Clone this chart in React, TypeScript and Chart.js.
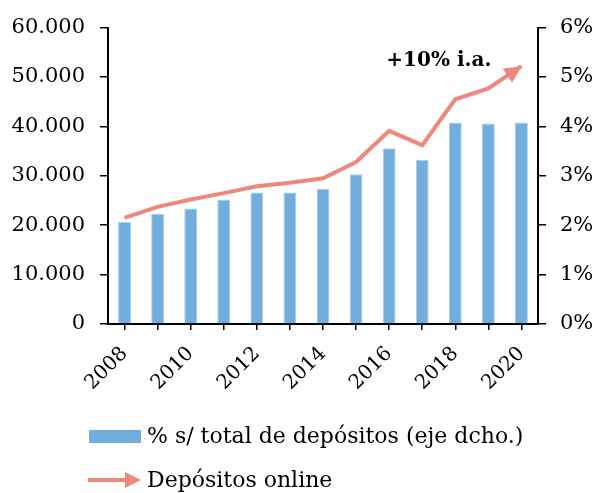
import { useEffect, useRef } from 'react';
import { Chart, registerables } from 'chart.js';

Chart.register(...registerables);

const years = ['2008', '2009', '2010', '2011', '2012', '2013', '2014', '2015', '2016', '2017', '2018', '2019', '2020'];
// Depósitos online (left axis)
const onlineDeposits = [21500, 23700, 25200, 26500, 27900, 28600, 29500, 32800, 39100, 36200, 45500, 47700, 52200];
// % s/ total de depósitos (right axis)
const shareOfTotal = [2.07, 2.23, 2.34, 2.52, 2.66, 2.66, 2.74, 3.03, 3.56, 3.32, 4.08, 4.06, 4.08];

const barLabel = '% s/ total de depósitos (eje dcho.)';
const lineLabel = 'Depósitos online';
const annotationText = '+10% i.a.';

const BAR_COLOR = '#71ADDD';
const BAR_EDGE = '#A8CDEC';
const LINE_COLOR = '#EE887C';
const TICK_FONT = { family: 'DejaVu Serif', size: 21 };
const X_TICK_FONT = { family: 'DejaVu Serif', size: 20 };

function arrowHead(ctx: CanvasRenderingContext2D, ax: number, ay: number, bx: number, by: number, len: number, half: number) {
  const dx = bx - ax;
  const dy = by - ay;
  const d = Math.hypot(dx, dy) || 1;
  const ux = dx / d;
  const uy = dy / d;
  const px = -uy;
  const py = ux;
  const cx = bx - ux * len;
  const cy = by - uy * len;
  ctx.beginPath();
  ctx.moveTo(bx, by);
  ctx.lineTo(cx + px * half, cy + py * half);
  ctx.lineTo(cx - px * half, cy - py * half);
  ctx.closePath();
  ctx.fill();
}

const decorPlugin = {
  id: 'decor',
  afterDatasetsDraw(chart: any) {
    const ctx = chart.ctx as CanvasRenderingContext2D;
    const pts = chart.getDatasetMeta(0).data;
    const a = pts[pts.length - 2];
    const b = pts[pts.length - 1];
    ctx.save();
    ctx.fillStyle = LINE_COLOR;
    arrowHead(ctx, a.x, a.y, b.x, b.y, 17, 8.5);
    ctx.restore();
  },
  afterDraw(chart: any) {
    const ctx = chart.ctx as CanvasRenderingContext2D;
    const xs = chart.scales.x;
    const ys = chart.scales.y;
    ctx.save();
    // annotation
    ctx.fillStyle = '#000';
    ctx.font = 'bold 20px "DejaVu Serif"';
    ctx.textAlign = 'right';
    ctx.textBaseline = 'alphabetic';
    ctx.fillText(annotationText, xs.getPixelForValue(11) + 3, ys.getPixelForValue(52200));

    // legend
    ctx.textAlign = 'left';
    ctx.font = '22px "DejaVu Serif"';
    ctx.fillStyle = BAR_COLOR;
    ctx.fillRect(89, 430, 52, 13);
    ctx.fillStyle = '#000';
    ctx.fillText(barLabel, 147, 443);

    ctx.strokeStyle = LINE_COLOR;
    ctx.lineWidth = 4;
    ctx.beginPath();
    ctx.moveTo(88, 480);
    ctx.lineTo(128, 480);
    ctx.stroke();
    ctx.fillStyle = LINE_COLOR;
    arrowHead(ctx, 88, 480, 141, 480, 16, 8);
    ctx.fillStyle = '#000';
    ctx.fillText(lineLabel, 147, 487);
    ctx.restore();
  },
};

export default function App() {
  const ref = useRef<HTMLCanvasElement | null>(null);

  useEffect(() => {
    if (!ref.current) return;
    const chart = new Chart(ref.current, {
      type: 'bar',
      data: {
        labels: years,
        datasets: [
          {
            type: 'line',
            label: lineLabel,
            data: onlineDeposits,
            yAxisID: 'y',
            borderColor: LINE_COLOR,
            borderWidth: 4,
            pointRadius: 0,
            tension: 0,
            fill: false,
            order: 1,
          } as any,
          {
            type: 'bar',
            label: barLabel,
            data: shareOfTotal,
            yAxisID: 'y1',
            backgroundColor: BAR_COLOR,
            borderColor: BAR_EDGE,
            borderWidth: 1,
            barPercentage: 0.39,
            categoryPercentage: 1,
            order: 2,
          },
        ],
      },
      plugins: [decorPlugin],
      options: {
        responsive: false,
        animation: false,
        layout: { padding: { top: 23, left: 0, right: 0, bottom: 0 } },
        plugins: { legend: { display: false }, tooltip: { enabled: false } },
        scales: {
          x: {
            offset: true,
            grid: { offset: false, drawOnChartArea: false, tickLength: 6, color: '#000', lineWidth: 1.5 },
            border: { color: '#000', width: 2 },
            ticks: {
              autoSkip: false,
              minRotation: 45,
              maxRotation: 45,
              padding: 12,
              color: '#000',
              font: X_TICK_FONT,
              callback: (_v: any, i: number) => (i % 2 === 0 ? years[i] : ''),
            },
            afterFit: (s: any) => {
              s.height = 169;
            },
          },
          y: {
            position: 'left',
            min: 0,
            max: 60000,
            grid: { drawOnChartArea: false, tickLength: 8, color: '#000', lineWidth: 1.5 },
            border: { color: '#000', width: 2 },
            ticks: {
              stepSize: 10000,
              padding: 15,
              color: '#000',
              font: TICK_FONT,
              callback: (v: any) => (v === 0 ? '0' : `${v / 1000}.000`),
            },
            afterFit: (s: any) => {
              s.width = 108;
            },
          },
          y1: {
            position: 'right',
            min: 0,
            max: 6,
            grid: { drawOnChartArea: false, tickLength: 8, color: '#000', lineWidth: 1.5 },
            border: { color: '#000', width: 2 },
            ticks: {
              stepSize: 1,
              padding: 14,
              color: '#000',
              font: TICK_FONT,
              callback: (v: any) => `${v}%`,
            },
            afterFit: (s: any) => {
              s.width = 59;
            },
          },
        },
      },
    });
    return () => chart.destroy();
  }, []);

  return (
    <div style={{ position: 'fixed', left: 0, top: 0, width: 597, height: 493, background: '#fff' }}>
      <canvas ref={ref} width={597} height={493} style={{ display: 'block' }} />
    </div>
  );
}
